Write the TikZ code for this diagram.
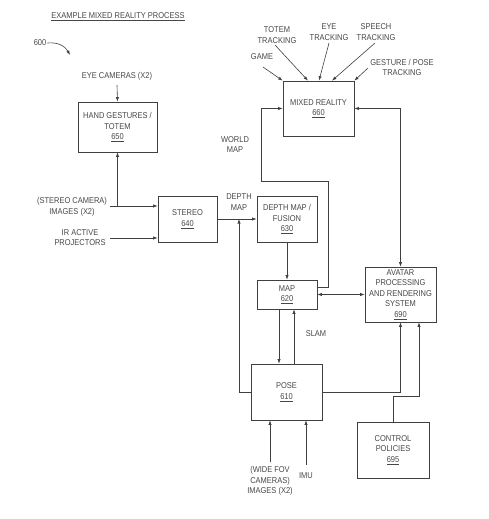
\documentclass[tikz,border=0pt]{standalone}
\usepackage{fontspec}
\setmainfont{Liberation Sans}[FakeStretch=0.88]
\usetikzlibrary{arrows.meta}
\begin{document}
\begin{tikzpicture}[x=1pt,y=-1pt,
  every node/.style={text=black!72,font=\fontsize{8.5}{10.6}\selectfont,align=center,inner sep=1pt},
  blk/.style={draw=black!75,line width=0.6pt,inner sep=0pt},
  ln/.style={draw=black!75,line width=0.6pt},
  arr/.style={ln,-{Latex[length=4.5pt,width=3.2pt]}},
  darr/.style={ln,{Latex[length=4.5pt,width=3.2pt]}-{Latex[length=4.5pt,width=3.2pt]}}]
\useasboundingbox (0,0) rectangle (488,519);
% title
\node (title) at (118,17) {\underline{EXAMPLE MIXED REALITY PROCESS}};
\node (n600) at (40,43) {600};
\coordinate (c600) at (70,55);
\draw[arr] (n600.east) .. controls (58,42) and (65,46) .. (c600);
% boxes
\node[blk,minimum width=79pt,minimum height=50pt] (hand) at (117.5,127) {HAND GESTURES /\\TOTEM\\\underline{650}};
\node[blk,minimum width=71pt,minimum height=55pt] (mr) at (318.5,108.5) {MIXED REALITY\\\underline{660}};
\node[blk,minimum width=59pt,minimum height=46pt] (stereo) at (187.5,219) {STEREO\\\underline{640}};
\node[blk,minimum width=60pt,minimum height=46pt] (depth) at (287,219) {DEPTH MAP /\\FUSION\\\underline{630}};
\node[blk,minimum width=60pt,minimum height=29pt] (map) at (287,294.5) {MAP\\\underline{620}};
\node[blk,minimum width=71pt,minimum height=55pt] (avatar) at (400.5,294.5) {AVATAR\\PROCESSING\\AND RENDERING\\SYSTEM\\\underline{690}};
\node[blk,minimum width=71pt,minimum height=56pt] (pose) at (286.5,392) {POSE\\\underline{610}};
\node[blk,minimum width=72pt,minimum height=56pt] (ctrl) at (393,450) {CONTROL\\POLICIES\\\underline{695}};
% labels
\node (eyecam) at (117,76) {EYE CAMERAS (X2)};
\node (stcam) at (72,207) {(STEREO CAMERA)\\IMAGES (X2)};
\node (ir) at (80,237.5) {IR ACTIVE\\PROJECTORS};
\node (dmap) at (239,202) {DEPTH\\MAP};
\node (wmap) at (235,144.5) {WORLD\\MAP};
\node (slam) at (316,334) {SLAM};
\node (wfov) at (270,481) {(WIDE FOV\\CAMERAS)\\IMAGES (X2)};
\node (imu) at (306,476) {IMU};
\node (game) at (262,57) {GAME};
\node (totem) at (277,35) {TOTEM\\TRACKING};
\node (eye) at (329,32) {EYE\\TRACKING};
\node (speech) at (376,32) {SPEECH\\TRACKING};
\node (gest) at (402,67.5) {GESTURE / POSE\\TRACKING};
% inputs to mixed reality
\coordinate (g0) at (263,67);
\coordinate (t0) at (275,45);
\coordinate (e0) at (329,43);
\coordinate (s0) at (375,43);
\coordinate (p0) at (368,68);
\coordinate (tx) at (308,0);
\coordinate (ex) at (319,0);
\coordinate (sx) at (332,0);
\draw[arr] (g0) -- (mr.north west);
\draw[arr] (t0) -- (mr.north -| tx);
\draw[arr] (e0) -- (mr.north -| ex);
\draw[arr] (s0) -- (mr.north -| sx);
\draw[arr] (p0) -- (mr.north east);
% eye cameras
\draw[arr] (eyecam.south) ++(0,4) -- (hand.north);
% stereo inputs
\coordinate (si1) at (110,206);
\coordinate (si2) at (110,238);
\draw[arr] (si1) -- (si1 -| stereo.west);
\draw[arr] (hand.south |- si1) -- (hand.south);
\draw[arr] (si2) -- (si2 -| stereo.west);
% stereo -> depth
\draw[arr] (stereo.east) -- (depth.west);
% depth -> map
\draw[arr] (depth.south) -- (map.north);
% map <-> avatar
\draw[darr] (map.east) -- (avatar.west);
% world map
\coordinate (wm0) at (328,287);
\coordinate (wm1) at (328,181);
\coordinate (wm2) at (261,181);
\draw[arr] (map.east |- wm0) -- (wm0) -- (wm1) -- (wm2) -- (wm2 |- mr.west) -- (mr.west);
% mixed reality <-> avatar
\draw[darr] (mr.east) -| (avatar.north);
% map <-> pose
\coordinate (m1) at (279,0);
\coordinate (m2) at (294,0);
\draw[arr] (map.south -| m1) -- (pose.north -| m1);
\draw[arr] (pose.north -| m2) -- (map.south -| m2);
% pose -> depth line
\coordinate (dl) at (239,219);
\draw[arr] (pose.west) -| (dl);
% pose -> avatar
\draw[arr] (pose.east) -| (avatar.south);
% control -> avatar
\coordinate (c1) at (419,396);
\draw[arr] (ctrl.north) |- (c1) -- (c1 |- avatar.south);
% pose inputs
\coordinate (w0) at (270,462);
\coordinate (i0) at (306,465);
\draw[arr] (w0) -- (w0 |- pose.south);
\draw[arr] (i0) -- (i0 |- pose.south);
\end{tikzpicture}
\end{document}
